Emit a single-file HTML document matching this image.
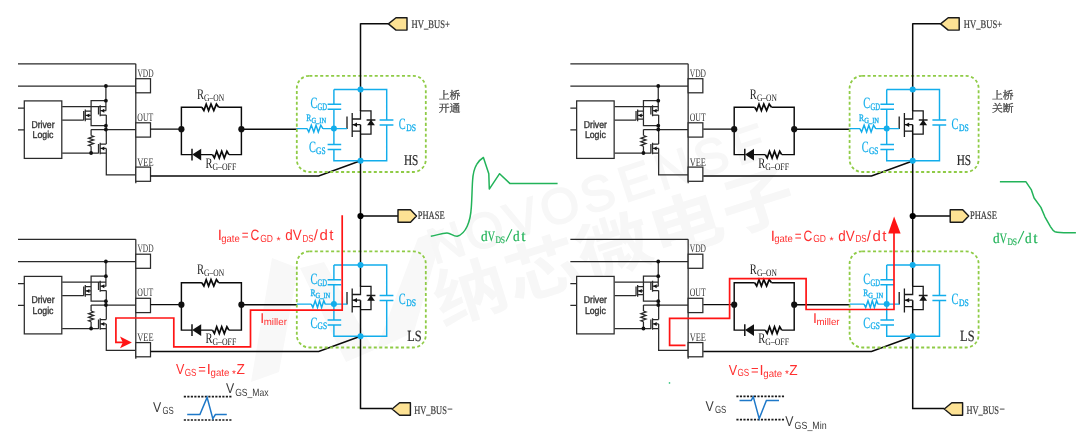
<!DOCTYPE html>
<html><head><meta charset="utf-8"><title>Miller current</title>
<style>
html,body{margin:0;padding:0;background:#fff;}
body{width:1087px;height:445px;overflow:hidden;font-family:"Liberation Sans",sans-serif;}
svg{display:block;will-change:transform;} text{text-rendering:geometricPrecision;}
</style></head><body>
<svg width="1087" height="445" viewBox="0 0 1087 445">
<rect width="1087" height="445" fill="#fff"/>
<path d="M272,258 L298,268 L279,372 L251,382 Z M300,268 L324,262 L374,350 L346,362 Z M418,238 L444,228 L414,332 L376,350 Z" fill="#f8f8f8"/>
<g transform="translate(446,242) rotate(-18)" font-family="Liberation Sans" font-size="50" fill="#f7f7f7" stroke="#f7f7f7" stroke-width="1.5" text-anchor="middle">
<text x="0.0" y="17.9">N</text>
<text x="39.8" y="17.9">O</text>
<text x="79.6" y="17.9">V</text>
<text x="119.4" y="17.9">O</text>
<text x="159.2" y="17.9">S</text>
<text x="199.0" y="17.9">E</text>
<text x="238.8" y="17.9">N</text>
<text x="278.6" y="17.9">S</text>
<text x="318.4" y="17.9">E</text>
</g>
<g transform="translate(470,291) rotate(-17.5)">
<text transform="translate(-37.00,24.50) scale(1,0.87)" x="0 75.3 150.6 225.9 301.2" y="0" font-family="&quot;Liberation Sans&quot;, &quot;Noto Sans CJK SC&quot;, sans-serif" font-size="74" font-weight="bold" fill="#f7f7f7">纳芯微电子</text>
</g>
<g transform="translate(0.00,0.00)">
<path d="M18,63.8 H135.8 M135.8,63.8 V183.2 M18,86 H135.8 M18,108 H24.2 M18,129.8 H24.2 M62.2,106.6 H105.9 M62.2,120 H83.7 M62.2,153 H98.5 M105.9,86 V110.6 M106.3,115 V144 M106.3,148.4 V174.8 H135.8 M105.9,100.7 H91.1 V125.7 H105.9 M91.1,129.6 H135.8 M91.1,129.5 V135.5 M91.1,146.2 V153 M98.50,106.40 V114.40 M100.20,105.30 V116.30 M100.20,106.60 H106.30 M100.20,110.60 H106.30 M100.20,115.00 H106.30 M83.70,111.00 V120.20 M85.30,109.50 V121.30 M85.30,111.10 H91.10 M85.30,115.40 H91.10 M85.30,119.00 H91.10 M98.50,144.00 V153.40 M100.20,142.70 V154.20 M100.20,144.00 H106.30 M100.20,148.40 H106.30 M100.20,153.00 H106.30" fill="none" stroke="#2a2a2a" stroke-width="1.25"/>
<path d="M91.10,135.50 L93.60,136.39 L88.60,138.17 L93.60,139.96 L88.60,141.74 L93.60,143.52 L88.60,145.31 L91.10,146.20" fill="none" stroke="#2a2a2a" stroke-width="1.3" stroke-linejoin="miter"/>
<rect x="135.8" y="78.7" width="14.7" height="14.1" fill="#fff" stroke="#2a2a2a" stroke-width="1.25"/>
<rect x="135.8" y="122.8" width="14.7" height="14.3" fill="#fff" stroke="#2a2a2a" stroke-width="1.25"/>
<rect x="135.8" y="167.1" width="14.7" height="14.2" fill="#fff" stroke="#2a2a2a" stroke-width="1.25"/>
<rect x="24.3" y="100.9" width="37.5" height="57.5" fill="#fff" stroke="#2a2a2a" stroke-width="1.25"/>
<circle cx="105.9" cy="86.0" r="1.9" fill="#111"/>
<circle cx="105.9" cy="100.7" r="1.9" fill="#111"/>
<circle cx="105.9" cy="125.7" r="1.9" fill="#111"/>
<circle cx="105.9" cy="129.5" r="1.9" fill="#111"/>
<circle cx="91.1" cy="153.0" r="1.9" fill="#111"/>
<path d="M100.9,110.7 L104.3,108.7 V112.7 Z M86,115.4 L89.4,113.4 V117.4 Z M100.9,148.4 L104.3,146.4 V150.4 Z" fill="#111"/>
<text x="137.4" y="76.7" font-family="Liberation Serif" font-size="11.5" fill="#3a3a3a" textLength="16.2" lengthAdjust="spacingAndGlyphs" >VDD</text>
<text x="137.3" y="120.9" font-family="Liberation Serif" font-size="11.5" fill="#3a3a3a" textLength="16.0" lengthAdjust="spacingAndGlyphs" >OUT</text>
<text x="137.3" y="165.7" font-family="Liberation Serif" font-size="11.5" fill="#3a3a3a" textLength="16.3" lengthAdjust="spacingAndGlyphs" >VEE</text>
<text x="43.0" y="127.5" font-family="Liberation Sans" font-size="10.0" fill="#363636" text-anchor="middle" textLength="23.2" lengthAdjust="spacingAndGlyphs" stroke="#363636" stroke-width="0.4">Driver</text>
<text x="43.0" y="138.2" font-family="Liberation Sans" font-size="10.0" fill="#363636" text-anchor="middle" textLength="20.9" lengthAdjust="spacingAndGlyphs" stroke="#363636" stroke-width="0.4">Logic</text>
</g>
<g transform="translate(0.00,0.00)">
<path d="M150.5,129.1 H181.4 M181.4,129.2 V107.3 H201.9 M218.7,107.3 H241.4 V154.6 H228.9 M212.5,154.6 H201 M192.5,154.6 H181.4 V129.2 M192,148.7 V160.6 M241.4,129.2 H297 M150.5,176 H318.7 L360.5,160.8" fill="none" stroke="#0a0a0a" stroke-width="1.45" stroke-linejoin="miter"/>
<path d="M201.90,107.30 L203.90,110.50 L206.20,104.10 L208.60,110.50 L211.00,104.10 L213.80,110.50 L216.40,104.10 L218.70,107.30 M212.50,154.60 L214.40,158.00 L216.70,151.20 L219.30,158.00 L221.70,151.20 L224.30,158.00 L226.90,151.20 L228.90,154.60" fill="none" stroke="#0a0a0a" stroke-width="1.7" stroke-linejoin="miter"/>
<circle cx="181.4" cy="129.2" r="3.1" fill="#111"/>
<circle cx="241.4" cy="129.2" r="3.1" fill="#111"/>
<path d="M192.2,154.6 L201.2,148.7 V160.6 Z" fill="#111"/>
<path d="M333.9,89.4 H386.7 V120 M386.7,125 V160.8 H333.9 V149.4 M333.9,144.5 V109.2 M333.9,104.2 V89.4 M327.6,104.2 H341.2 M327.6,109.2 H341.2 M327.6,144.5 H341.2 M327.6,149.4 H341.2 M379.6,120 H393.4 M379.6,125 H393.4" fill="none" stroke="#12adeb" stroke-width="1.45"/>
<circle cx="333.9" cy="128.6" r="3.0" fill="#12adeb"/>
<rect x="296.8" y="75.8" width="129" height="96.2" rx="12.5" ry="12.5" fill="none" stroke="#8fcb46" stroke-width="1.8" stroke-dasharray="3.05,2.4"/>
<text x="197.0" y="98.9" font-family="Liberation Serif" font-size="14.6" fill="#222" textLength="7.0" lengthAdjust="spacingAndGlyphs" >R</text>
<text x="204.1" y="100.7" font-family="Liberation Serif" font-size="10.0" fill="#222" textLength="20.0" lengthAdjust="spacingAndGlyphs" >G–ON</text>
<text x="205.4" y="167.6" font-family="Liberation Serif" font-size="14.6" fill="#222" textLength="7.0" lengthAdjust="spacingAndGlyphs" >R</text>
<text x="212.5" y="169.5" font-family="Liberation Serif" font-size="10.0" fill="#222" textLength="23.7" lengthAdjust="spacingAndGlyphs" >G–OFF</text>
<text x="310.4" y="108.3" font-family="Liberation Serif" font-size="15.6" fill="#12adeb" textLength="6.9" lengthAdjust="spacingAndGlyphs" stroke="#12adeb" stroke-width="0.18">C</text>
<text x="317.6" y="110.1" font-family="Liberation Serif" font-size="10.0" fill="#12adeb" textLength="9.5" lengthAdjust="spacingAndGlyphs" stroke="#12adeb" stroke-width="0.32">GD</text>
<text x="398.7" y="128.9" font-family="Liberation Serif" font-size="15.6" fill="#12adeb" textLength="6.9" lengthAdjust="spacingAndGlyphs" stroke="#12adeb" stroke-width="0.18">C</text>
<text x="406.2" y="130.5" font-family="Liberation Serif" font-size="10.0" fill="#12adeb" textLength="9.8" lengthAdjust="spacingAndGlyphs" stroke="#12adeb" stroke-width="0.32">DS</text>
</g>
<g transform="translate(0.00,0.00)">
<path d="M347,116.6 V128.9 M352.2,113 V137 M352.2,119 H360.5 V110.9 H371 V134.2 H360.5 M352.2,124.7 H360.5 M352.2,131.2 H360.5 M366.6,120 H375.4" fill="none" stroke="#1a1a1a" stroke-width="1.3" stroke-linejoin="miter"/>
<path d="M352.7,124.7 L357,122.4 V127 Z" fill="#111"/>
<path d="M371,119.8 L374.9,125.2 H367.1 Z" fill="#111"/>
</g>
<path d="M297.0,128.6 H307.1 M307.10,128.60 L308.80,132.00 L311.30,125.20 L313.80,132.00 L316.00,125.20 L318.30,132.00 L320.80,125.20 L322.90,128.60 M322.9,128.6 H347.0" fill="none" stroke="#12adeb" stroke-width="1.45"/>
<text x="306.3" y="121.2" font-family="Liberation Serif" font-size="9.8" fill="#12adeb" textLength="5.0" lengthAdjust="spacingAndGlyphs" stroke="#12adeb" stroke-width="0.32">R</text>
<text x="311.4" y="123.3" font-family="Liberation Serif" font-size="7.8" fill="#12adeb" textLength="14.8" lengthAdjust="spacingAndGlyphs" stroke="#12adeb" stroke-width="0.32">G_IN</text>
<text x="308.9" y="152.2" font-family="Liberation Serif" font-size="15.6" fill="#12adeb" textLength="6.9" lengthAdjust="spacingAndGlyphs" stroke="#12adeb" stroke-width="0.18">C</text>
<text x="316.1" y="153.5" font-family="Liberation Serif" font-size="10.0" fill="#12adeb" textLength="9.5" lengthAdjust="spacingAndGlyphs" stroke="#12adeb" stroke-width="0.32">GS</text>
<g transform="translate(0.00,175.50)">
<path d="M18,63.8 H135.8 M135.8,63.8 V183.2 M18,86 H135.8 M18,108 H24.2 M18,129.8 H24.2 M62.2,106.6 H105.9 M62.2,120 H83.7 M62.2,153 H98.5 M105.9,86 V110.6 M106.3,115 V144 M106.3,148.4 V174.8 H135.8 M105.9,100.7 H91.1 V125.7 H105.9 M91.1,129.6 H135.8 M91.1,129.5 V135.5 M91.1,146.2 V153 M98.50,106.40 V114.40 M100.20,105.30 V116.30 M100.20,106.60 H106.30 M100.20,110.60 H106.30 M100.20,115.00 H106.30 M83.70,111.00 V120.20 M85.30,109.50 V121.30 M85.30,111.10 H91.10 M85.30,115.40 H91.10 M85.30,119.00 H91.10 M98.50,144.00 V153.40 M100.20,142.70 V154.20 M100.20,144.00 H106.30 M100.20,148.40 H106.30 M100.20,153.00 H106.30" fill="none" stroke="#2a2a2a" stroke-width="1.25"/>
<path d="M91.10,135.50 L93.60,136.39 L88.60,138.17 L93.60,139.96 L88.60,141.74 L93.60,143.52 L88.60,145.31 L91.10,146.20" fill="none" stroke="#2a2a2a" stroke-width="1.3" stroke-linejoin="miter"/>
<rect x="135.8" y="78.7" width="14.7" height="14.1" fill="#fff" stroke="#2a2a2a" stroke-width="1.25"/>
<rect x="135.8" y="122.8" width="14.7" height="14.3" fill="#fff" stroke="#2a2a2a" stroke-width="1.25"/>
<rect x="135.8" y="167.1" width="14.7" height="14.2" fill="#fff" stroke="#2a2a2a" stroke-width="1.25"/>
<rect x="24.3" y="100.9" width="37.5" height="57.5" fill="#fff" stroke="#2a2a2a" stroke-width="1.25"/>
<circle cx="105.9" cy="86.0" r="1.9" fill="#111"/>
<circle cx="105.9" cy="100.7" r="1.9" fill="#111"/>
<circle cx="105.9" cy="125.7" r="1.9" fill="#111"/>
<circle cx="105.9" cy="129.5" r="1.9" fill="#111"/>
<circle cx="91.1" cy="153.0" r="1.9" fill="#111"/>
<path d="M100.9,110.7 L104.3,108.7 V112.7 Z M86,115.4 L89.4,113.4 V117.4 Z M100.9,148.4 L104.3,146.4 V150.4 Z" fill="#111"/>
<text x="137.4" y="76.7" font-family="Liberation Serif" font-size="11.5" fill="#3a3a3a" textLength="16.2" lengthAdjust="spacingAndGlyphs" >VDD</text>
<text x="137.3" y="120.9" font-family="Liberation Serif" font-size="11.5" fill="#3a3a3a" textLength="16.0" lengthAdjust="spacingAndGlyphs" >OUT</text>
<text x="137.3" y="165.7" font-family="Liberation Serif" font-size="11.5" fill="#3a3a3a" textLength="16.3" lengthAdjust="spacingAndGlyphs" >VEE</text>
<text x="43.0" y="127.5" font-family="Liberation Sans" font-size="10.0" fill="#363636" text-anchor="middle" textLength="23.2" lengthAdjust="spacingAndGlyphs" stroke="#363636" stroke-width="0.4">Driver</text>
<text x="43.0" y="138.2" font-family="Liberation Sans" font-size="10.0" fill="#363636" text-anchor="middle" textLength="20.9" lengthAdjust="spacingAndGlyphs" stroke="#363636" stroke-width="0.4">Logic</text>
</g>
<g transform="translate(0.00,175.50)">
<path d="M150.5,129.1 H181.4 M181.4,129.2 V107.3 H201.9 M218.7,107.3 H241.4 V154.6 H228.9 M212.5,154.6 H201 M192.5,154.6 H181.4 V129.2 M192,148.7 V160.6 M241.4,129.2 H297 M150.5,176 H318.7 L360.5,160.8" fill="none" stroke="#0a0a0a" stroke-width="1.45" stroke-linejoin="miter"/>
<path d="M201.90,107.30 L203.90,110.50 L206.20,104.10 L208.60,110.50 L211.00,104.10 L213.80,110.50 L216.40,104.10 L218.70,107.30 M212.50,154.60 L214.40,158.00 L216.70,151.20 L219.30,158.00 L221.70,151.20 L224.30,158.00 L226.90,151.20 L228.90,154.60" fill="none" stroke="#0a0a0a" stroke-width="1.7" stroke-linejoin="miter"/>
<circle cx="181.4" cy="129.2" r="3.1" fill="#111"/>
<circle cx="241.4" cy="129.2" r="3.1" fill="#111"/>
<path d="M192.2,154.6 L201.2,148.7 V160.6 Z" fill="#111"/>
<path d="M333.9,89.4 H386.7 V120 M386.7,125 V160.8 H333.9 V149.4 M333.9,144.5 V109.2 M333.9,104.2 V89.4 M327.6,104.2 H341.2 M327.6,109.2 H341.2 M327.6,144.5 H341.2 M327.6,149.4 H341.2 M379.6,120 H393.4 M379.6,125 H393.4" fill="none" stroke="#12adeb" stroke-width="1.45"/>
<circle cx="333.9" cy="128.6" r="3.0" fill="#12adeb"/>
<rect x="296.8" y="75.8" width="129" height="96.2" rx="12.5" ry="12.5" fill="none" stroke="#8fcb46" stroke-width="1.8" stroke-dasharray="3.05,2.4"/>
<text x="197.0" y="98.9" font-family="Liberation Serif" font-size="14.6" fill="#222" textLength="7.0" lengthAdjust="spacingAndGlyphs" >R</text>
<text x="204.1" y="100.7" font-family="Liberation Serif" font-size="10.0" fill="#222" textLength="20.0" lengthAdjust="spacingAndGlyphs" >G–ON</text>
<text x="205.4" y="167.6" font-family="Liberation Serif" font-size="14.6" fill="#222" textLength="7.0" lengthAdjust="spacingAndGlyphs" >R</text>
<text x="212.5" y="169.5" font-family="Liberation Serif" font-size="10.0" fill="#222" textLength="23.7" lengthAdjust="spacingAndGlyphs" >G–OFF</text>
<text x="310.4" y="108.3" font-family="Liberation Serif" font-size="15.6" fill="#12adeb" textLength="6.9" lengthAdjust="spacingAndGlyphs" stroke="#12adeb" stroke-width="0.18">C</text>
<text x="317.6" y="110.1" font-family="Liberation Serif" font-size="10.0" fill="#12adeb" textLength="9.5" lengthAdjust="spacingAndGlyphs" stroke="#12adeb" stroke-width="0.32">GD</text>
<text x="398.7" y="128.9" font-family="Liberation Serif" font-size="15.6" fill="#12adeb" textLength="6.9" lengthAdjust="spacingAndGlyphs" stroke="#12adeb" stroke-width="0.18">C</text>
<text x="406.2" y="130.5" font-family="Liberation Serif" font-size="10.0" fill="#12adeb" textLength="9.8" lengthAdjust="spacingAndGlyphs" stroke="#12adeb" stroke-width="0.32">DS</text>
</g>
<g transform="translate(0.00,175.50)">
<path d="M347,116.6 V128.9 M352.2,113 V137 M352.2,119 H360.5 V110.9 H371 V134.2 H360.5 M352.2,124.7 H360.5 M352.2,131.2 H360.5 M366.6,120 H375.4" fill="none" stroke="#1a1a1a" stroke-width="1.3" stroke-linejoin="miter"/>
<path d="M352.7,124.7 L357,122.4 V127 Z" fill="#111"/>
<path d="M371,119.8 L374.9,125.2 H367.1 Z" fill="#111"/>
</g>
<path d="M297.0,304.1 H311.3 M311.30,304.10 L312.90,307.50 L315.20,300.70 L317.50,307.50 L319.50,300.70 L321.60,307.50 L323.80,300.70 L325.20,304.10 M325.2,304.1 H347.0" fill="none" stroke="#12adeb" stroke-width="1.45"/>
<text x="310.4" y="296.3" font-family="Liberation Serif" font-size="9.8" fill="#12adeb" textLength="5.0" lengthAdjust="spacingAndGlyphs" stroke="#12adeb" stroke-width="0.32">R</text>
<text x="315.5" y="298.2" font-family="Liberation Serif" font-size="7.8" fill="#12adeb" textLength="14.8" lengthAdjust="spacingAndGlyphs" stroke="#12adeb" stroke-width="0.32">G_IN</text>
<text x="310.4" y="327.7" font-family="Liberation Serif" font-size="15.6" fill="#12adeb" textLength="6.9" lengthAdjust="spacingAndGlyphs" stroke="#12adeb" stroke-width="0.18">C</text>
<text x="317.6" y="329.0" font-family="Liberation Serif" font-size="10.0" fill="#12adeb" textLength="9.5" lengthAdjust="spacingAndGlyphs" stroke="#12adeb" stroke-width="0.32">GS</text>
<g transform="translate(552.35,0.00)">
<path d="M18,63.8 H135.8 M135.8,63.8 V183.2 M18,86 H135.8 M18,108 H24.2 M18,129.8 H24.2 M62.2,106.6 H105.9 M62.2,120 H83.7 M62.2,153 H98.5 M105.9,86 V110.6 M106.3,115 V144 M106.3,148.4 V174.8 H135.8 M105.9,100.7 H91.1 V125.7 H105.9 M91.1,129.6 H135.8 M91.1,129.5 V135.5 M91.1,146.2 V153 M98.50,106.40 V114.40 M100.20,105.30 V116.30 M100.20,106.60 H106.30 M100.20,110.60 H106.30 M100.20,115.00 H106.30 M83.70,111.00 V120.20 M85.30,109.50 V121.30 M85.30,111.10 H91.10 M85.30,115.40 H91.10 M85.30,119.00 H91.10 M98.50,144.00 V153.40 M100.20,142.70 V154.20 M100.20,144.00 H106.30 M100.20,148.40 H106.30 M100.20,153.00 H106.30" fill="none" stroke="#2a2a2a" stroke-width="1.25"/>
<path d="M91.10,135.50 L93.60,136.39 L88.60,138.17 L93.60,139.96 L88.60,141.74 L93.60,143.52 L88.60,145.31 L91.10,146.20" fill="none" stroke="#2a2a2a" stroke-width="1.3" stroke-linejoin="miter"/>
<rect x="135.8" y="78.7" width="14.7" height="14.1" fill="#fff" stroke="#2a2a2a" stroke-width="1.25"/>
<rect x="135.8" y="122.8" width="14.7" height="14.3" fill="#fff" stroke="#2a2a2a" stroke-width="1.25"/>
<rect x="135.8" y="167.1" width="14.7" height="14.2" fill="#fff" stroke="#2a2a2a" stroke-width="1.25"/>
<rect x="24.3" y="100.9" width="37.5" height="57.5" fill="#fff" stroke="#2a2a2a" stroke-width="1.25"/>
<circle cx="105.9" cy="86.0" r="1.9" fill="#111"/>
<circle cx="105.9" cy="100.7" r="1.9" fill="#111"/>
<circle cx="105.9" cy="125.7" r="1.9" fill="#111"/>
<circle cx="105.9" cy="129.5" r="1.9" fill="#111"/>
<circle cx="91.1" cy="153.0" r="1.9" fill="#111"/>
<path d="M100.9,110.7 L104.3,108.7 V112.7 Z M86,115.4 L89.4,113.4 V117.4 Z M100.9,148.4 L104.3,146.4 V150.4 Z" fill="#111"/>
<text x="137.4" y="76.7" font-family="Liberation Serif" font-size="11.5" fill="#3a3a3a" textLength="16.2" lengthAdjust="spacingAndGlyphs" >VDD</text>
<text x="137.3" y="120.9" font-family="Liberation Serif" font-size="11.5" fill="#3a3a3a" textLength="16.0" lengthAdjust="spacingAndGlyphs" >OUT</text>
<text x="137.3" y="165.7" font-family="Liberation Serif" font-size="11.5" fill="#3a3a3a" textLength="16.3" lengthAdjust="spacingAndGlyphs" >VEE</text>
<text x="43.0" y="127.5" font-family="Liberation Sans" font-size="10.0" fill="#363636" text-anchor="middle" textLength="23.2" lengthAdjust="spacingAndGlyphs" stroke="#363636" stroke-width="0.4">Driver</text>
<text x="43.0" y="138.2" font-family="Liberation Sans" font-size="10.0" fill="#363636" text-anchor="middle" textLength="20.9" lengthAdjust="spacingAndGlyphs" stroke="#363636" stroke-width="0.4">Logic</text>
</g>
<g transform="translate(552.80,0.00)">
<path d="M150.5,129.1 H181.4 M181.4,129.2 V107.3 H201.9 M218.7,107.3 H241.4 V154.6 H228.9 M212.5,154.6 H201 M192.5,154.6 H181.4 V129.2 M192,148.7 V160.6 M241.4,129.2 H297 M150.5,176 H318.7 L360.5,160.8" fill="none" stroke="#0a0a0a" stroke-width="1.45" stroke-linejoin="miter"/>
<path d="M201.90,107.30 L203.90,110.50 L206.20,104.10 L208.60,110.50 L211.00,104.10 L213.80,110.50 L216.40,104.10 L218.70,107.30 M212.50,154.60 L214.40,158.00 L216.70,151.20 L219.30,158.00 L221.70,151.20 L224.30,158.00 L226.90,151.20 L228.90,154.60" fill="none" stroke="#0a0a0a" stroke-width="1.7" stroke-linejoin="miter"/>
<circle cx="181.4" cy="129.2" r="3.1" fill="#111"/>
<circle cx="241.4" cy="129.2" r="3.1" fill="#111"/>
<path d="M192.2,154.6 L201.2,148.7 V160.6 Z" fill="#111"/>
<path d="M333.9,89.4 H386.7 V120 M386.7,125 V160.8 H333.9 V149.4 M333.9,144.5 V109.2 M333.9,104.2 V89.4 M327.6,104.2 H341.2 M327.6,109.2 H341.2 M327.6,144.5 H341.2 M327.6,149.4 H341.2 M379.6,120 H393.4 M379.6,125 H393.4" fill="none" stroke="#12adeb" stroke-width="1.45"/>
<circle cx="333.9" cy="128.6" r="3.0" fill="#12adeb"/>
<rect x="296.8" y="75.8" width="129" height="96.2" rx="12.5" ry="12.5" fill="none" stroke="#8fcb46" stroke-width="1.8" stroke-dasharray="3.05,2.4"/>
<text x="197.0" y="98.9" font-family="Liberation Serif" font-size="14.6" fill="#222" textLength="7.0" lengthAdjust="spacingAndGlyphs" >R</text>
<text x="204.1" y="100.7" font-family="Liberation Serif" font-size="10.0" fill="#222" textLength="20.0" lengthAdjust="spacingAndGlyphs" >G–ON</text>
<text x="205.4" y="167.6" font-family="Liberation Serif" font-size="14.6" fill="#222" textLength="7.0" lengthAdjust="spacingAndGlyphs" >R</text>
<text x="212.5" y="169.5" font-family="Liberation Serif" font-size="10.0" fill="#222" textLength="23.7" lengthAdjust="spacingAndGlyphs" >G–OFF</text>
<text x="310.4" y="108.3" font-family="Liberation Serif" font-size="15.6" fill="#12adeb" textLength="6.9" lengthAdjust="spacingAndGlyphs" stroke="#12adeb" stroke-width="0.18">C</text>
<text x="317.6" y="110.1" font-family="Liberation Serif" font-size="10.0" fill="#12adeb" textLength="9.5" lengthAdjust="spacingAndGlyphs" stroke="#12adeb" stroke-width="0.32">GD</text>
<text x="398.7" y="128.9" font-family="Liberation Serif" font-size="15.6" fill="#12adeb" textLength="6.9" lengthAdjust="spacingAndGlyphs" stroke="#12adeb" stroke-width="0.18">C</text>
<text x="406.2" y="130.5" font-family="Liberation Serif" font-size="10.0" fill="#12adeb" textLength="9.8" lengthAdjust="spacingAndGlyphs" stroke="#12adeb" stroke-width="0.32">DS</text>
</g>
<g transform="translate(552.20,0.00)">
<path d="M347,116.6 V128.9 M352.2,113 V137 M352.2,119 H360.5 V110.9 H371 V134.2 H360.5 M352.2,124.7 H360.5 M352.2,131.2 H360.5 M366.6,120 H375.4" fill="none" stroke="#1a1a1a" stroke-width="1.3" stroke-linejoin="miter"/>
<path d="M352.7,124.7 L357,122.4 V127 Z" fill="#111"/>
<path d="M371,119.8 L374.9,125.2 H367.1 Z" fill="#111"/>
</g>
<path d="M849.8,128.6 H859.9 M859.90,128.60 L861.60,132.00 L864.10,125.20 L866.60,132.00 L868.80,125.20 L871.10,132.00 L873.60,125.20 L875.70,128.60 M875.7,128.6 H899.2" fill="none" stroke="#12adeb" stroke-width="1.45"/>
<text x="859.1" y="121.2" font-family="Liberation Serif" font-size="9.8" fill="#12adeb" textLength="5.0" lengthAdjust="spacingAndGlyphs" stroke="#12adeb" stroke-width="0.32">R</text>
<text x="864.2" y="123.3" font-family="Liberation Serif" font-size="7.8" fill="#12adeb" textLength="14.8" lengthAdjust="spacingAndGlyphs" stroke="#12adeb" stroke-width="0.32">G_IN</text>
<text x="861.7" y="152.2" font-family="Liberation Serif" font-size="15.6" fill="#12adeb" textLength="6.9" lengthAdjust="spacingAndGlyphs" stroke="#12adeb" stroke-width="0.18">C</text>
<text x="868.9" y="153.5" font-family="Liberation Serif" font-size="10.0" fill="#12adeb" textLength="9.5" lengthAdjust="spacingAndGlyphs" stroke="#12adeb" stroke-width="0.32">GS</text>
<g transform="translate(552.35,175.50)">
<path d="M18,63.8 H135.8 M135.8,63.8 V183.2 M18,86 H135.8 M18,108 H24.2 M18,129.8 H24.2 M62.2,106.6 H105.9 M62.2,120 H83.7 M62.2,153 H98.5 M105.9,86 V110.6 M106.3,115 V144 M106.3,148.4 V174.8 H135.8 M105.9,100.7 H91.1 V125.7 H105.9 M91.1,129.6 H135.8 M91.1,129.5 V135.5 M91.1,146.2 V153 M98.50,106.40 V114.40 M100.20,105.30 V116.30 M100.20,106.60 H106.30 M100.20,110.60 H106.30 M100.20,115.00 H106.30 M83.70,111.00 V120.20 M85.30,109.50 V121.30 M85.30,111.10 H91.10 M85.30,115.40 H91.10 M85.30,119.00 H91.10 M98.50,144.00 V153.40 M100.20,142.70 V154.20 M100.20,144.00 H106.30 M100.20,148.40 H106.30 M100.20,153.00 H106.30" fill="none" stroke="#2a2a2a" stroke-width="1.25"/>
<path d="M91.10,135.50 L93.60,136.39 L88.60,138.17 L93.60,139.96 L88.60,141.74 L93.60,143.52 L88.60,145.31 L91.10,146.20" fill="none" stroke="#2a2a2a" stroke-width="1.3" stroke-linejoin="miter"/>
<rect x="135.8" y="78.7" width="14.7" height="14.1" fill="#fff" stroke="#2a2a2a" stroke-width="1.25"/>
<rect x="135.8" y="122.8" width="14.7" height="14.3" fill="#fff" stroke="#2a2a2a" stroke-width="1.25"/>
<rect x="135.8" y="167.1" width="14.7" height="14.2" fill="#fff" stroke="#2a2a2a" stroke-width="1.25"/>
<rect x="24.3" y="100.9" width="37.5" height="57.5" fill="#fff" stroke="#2a2a2a" stroke-width="1.25"/>
<circle cx="105.9" cy="86.0" r="1.9" fill="#111"/>
<circle cx="105.9" cy="100.7" r="1.9" fill="#111"/>
<circle cx="105.9" cy="125.7" r="1.9" fill="#111"/>
<circle cx="105.9" cy="129.5" r="1.9" fill="#111"/>
<circle cx="91.1" cy="153.0" r="1.9" fill="#111"/>
<path d="M100.9,110.7 L104.3,108.7 V112.7 Z M86,115.4 L89.4,113.4 V117.4 Z M100.9,148.4 L104.3,146.4 V150.4 Z" fill="#111"/>
<text x="137.4" y="76.7" font-family="Liberation Serif" font-size="11.5" fill="#3a3a3a" textLength="16.2" lengthAdjust="spacingAndGlyphs" >VDD</text>
<text x="137.3" y="120.9" font-family="Liberation Serif" font-size="11.5" fill="#3a3a3a" textLength="16.0" lengthAdjust="spacingAndGlyphs" >OUT</text>
<text x="137.3" y="165.7" font-family="Liberation Serif" font-size="11.5" fill="#3a3a3a" textLength="16.3" lengthAdjust="spacingAndGlyphs" >VEE</text>
<text x="43.0" y="127.5" font-family="Liberation Sans" font-size="10.0" fill="#363636" text-anchor="middle" textLength="23.2" lengthAdjust="spacingAndGlyphs" stroke="#363636" stroke-width="0.4">Driver</text>
<text x="43.0" y="138.2" font-family="Liberation Sans" font-size="10.0" fill="#363636" text-anchor="middle" textLength="20.9" lengthAdjust="spacingAndGlyphs" stroke="#363636" stroke-width="0.4">Logic</text>
</g>
<g transform="translate(552.80,175.50)">
<path d="M150.5,129.1 H181.4 M181.4,129.2 V107.3 H201.9 M218.7,107.3 H241.4 V154.6 H228.9 M212.5,154.6 H201 M192.5,154.6 H181.4 V129.2 M192,148.7 V160.6 M241.4,129.2 H297 M150.5,176 H318.7 L360.5,160.8" fill="none" stroke="#0a0a0a" stroke-width="1.45" stroke-linejoin="miter"/>
<path d="M201.90,107.30 L203.90,110.50 L206.20,104.10 L208.60,110.50 L211.00,104.10 L213.80,110.50 L216.40,104.10 L218.70,107.30 M212.50,154.60 L214.40,158.00 L216.70,151.20 L219.30,158.00 L221.70,151.20 L224.30,158.00 L226.90,151.20 L228.90,154.60" fill="none" stroke="#0a0a0a" stroke-width="1.7" stroke-linejoin="miter"/>
<circle cx="181.4" cy="129.2" r="3.1" fill="#111"/>
<circle cx="241.4" cy="129.2" r="3.1" fill="#111"/>
<path d="M192.2,154.6 L201.2,148.7 V160.6 Z" fill="#111"/>
<path d="M333.9,89.4 H386.7 V120 M386.7,125 V160.8 H333.9 V149.4 M333.9,144.5 V109.2 M333.9,104.2 V89.4 M327.6,104.2 H341.2 M327.6,109.2 H341.2 M327.6,144.5 H341.2 M327.6,149.4 H341.2 M379.6,120 H393.4 M379.6,125 H393.4" fill="none" stroke="#12adeb" stroke-width="1.45"/>
<circle cx="333.9" cy="128.6" r="3.0" fill="#12adeb"/>
<rect x="296.8" y="75.8" width="129" height="96.2" rx="12.5" ry="12.5" fill="none" stroke="#8fcb46" stroke-width="1.8" stroke-dasharray="3.05,2.4"/>
<text x="197.0" y="98.9" font-family="Liberation Serif" font-size="14.6" fill="#222" textLength="7.0" lengthAdjust="spacingAndGlyphs" >R</text>
<text x="204.1" y="100.7" font-family="Liberation Serif" font-size="10.0" fill="#222" textLength="20.0" lengthAdjust="spacingAndGlyphs" >G–ON</text>
<text x="205.4" y="167.6" font-family="Liberation Serif" font-size="14.6" fill="#222" textLength="7.0" lengthAdjust="spacingAndGlyphs" >R</text>
<text x="212.5" y="169.5" font-family="Liberation Serif" font-size="10.0" fill="#222" textLength="23.7" lengthAdjust="spacingAndGlyphs" >G–OFF</text>
<text x="310.4" y="108.3" font-family="Liberation Serif" font-size="15.6" fill="#12adeb" textLength="6.9" lengthAdjust="spacingAndGlyphs" stroke="#12adeb" stroke-width="0.18">C</text>
<text x="317.6" y="110.1" font-family="Liberation Serif" font-size="10.0" fill="#12adeb" textLength="9.5" lengthAdjust="spacingAndGlyphs" stroke="#12adeb" stroke-width="0.32">GD</text>
<text x="398.7" y="128.9" font-family="Liberation Serif" font-size="15.6" fill="#12adeb" textLength="6.9" lengthAdjust="spacingAndGlyphs" stroke="#12adeb" stroke-width="0.18">C</text>
<text x="406.2" y="130.5" font-family="Liberation Serif" font-size="10.0" fill="#12adeb" textLength="9.8" lengthAdjust="spacingAndGlyphs" stroke="#12adeb" stroke-width="0.32">DS</text>
</g>
<g transform="translate(552.20,175.50)">
<path d="M347,116.6 V128.9 M352.2,113 V137 M352.2,119 H360.5 V110.9 H371 V134.2 H360.5 M352.2,124.7 H360.5 M352.2,131.2 H360.5 M366.6,120 H375.4" fill="none" stroke="#1a1a1a" stroke-width="1.3" stroke-linejoin="miter"/>
<path d="M352.7,124.7 L357,122.4 V127 Z" fill="#111"/>
<path d="M371,119.8 L374.9,125.2 H367.1 Z" fill="#111"/>
</g>
<path d="M849.8,304.1 H864.1 M864.10,304.10 L865.70,307.50 L868.00,300.70 L870.30,307.50 L872.30,300.70 L874.40,307.50 L876.60,300.70 L878.00,304.10 M878.0,304.1 H899.2" fill="none" stroke="#12adeb" stroke-width="1.45"/>
<text x="863.2" y="296.3" font-family="Liberation Serif" font-size="9.8" fill="#12adeb" textLength="5.0" lengthAdjust="spacingAndGlyphs" stroke="#12adeb" stroke-width="0.32">R</text>
<text x="868.3" y="298.2" font-family="Liberation Serif" font-size="7.8" fill="#12adeb" textLength="14.8" lengthAdjust="spacingAndGlyphs" stroke="#12adeb" stroke-width="0.32">G_IN</text>
<text x="863.2" y="327.7" font-family="Liberation Serif" font-size="15.6" fill="#12adeb" textLength="6.9" lengthAdjust="spacingAndGlyphs" stroke="#12adeb" stroke-width="0.18">C</text>
<text x="870.4" y="329.0" font-family="Liberation Serif" font-size="10.0" fill="#12adeb" textLength="9.5" lengthAdjust="spacingAndGlyphs" stroke="#12adeb" stroke-width="0.32">GS</text>
<path d="M388.5,23.8 H360.5 M360.5,23.2 V110.9 M360.5,124.7 V286.4 M360.5,300.2 V408.4 H392.1 M360.5,216 H398.0" fill="none" stroke="#0a0a0a" stroke-width="1.5"/>
<circle cx="360.5" cy="216" r="3.1" fill="#000"/>
<circle cx="360.5" cy="89.4" r="3.0" fill="#12adeb"/>
<circle cx="360.5" cy="160.8" r="3.0" fill="#12adeb"/>
<circle cx="360.5" cy="264.9" r="3.0" fill="#12adeb"/>
<circle cx="360.5" cy="336.3" r="3.0" fill="#12adeb"/>
<path d="M388.4,23.9 L396.0,17.7 H407.0 V30.1 H396.0 Z" fill="#fde294" stroke="#1a1a1a" stroke-width="1.45" stroke-linejoin="round"/>
<path d="M392.1,409.0 L399.6,402.7 H410.4 V415.3 H399.6 Z" fill="#fde294" stroke="#1a1a1a" stroke-width="1.45" stroke-linejoin="round"/>
<path d="M398.0,209.8 H410.5 L416.5,216.0 L410.5,222.2 H398.0 Z" fill="#fde294" stroke="#1a1a1a" stroke-width="1.45" stroke-linejoin="round"/>
<text x="411.6" y="27.8" font-family="Liberation Serif" font-size="11.5" fill="#3a3a3a" textLength="38.2" lengthAdjust="spacingAndGlyphs" stroke="#3a3a3a" stroke-width="0.22">HV_BUS+</text>
<text x="414.2" y="413.6" font-family="Liberation Serif" font-size="11.5" fill="#3a3a3a" textLength="32.6" lengthAdjust="spacingAndGlyphs" stroke="#3a3a3a" stroke-width="0.22">HV_BUS</text>
<path d="M447.6,409.1 H452.3" stroke="#3a3a3a" stroke-width="0.9"/>
<text x="417.7" y="219.4" font-family="Liberation Serif" font-size="11.5" fill="#3a3a3a" textLength="27.0" lengthAdjust="spacingAndGlyphs" stroke="#3a3a3a" stroke-width="0.22">PHASE</text>
<text x="403.9" y="165.2" font-family="Liberation Serif" font-size="15.0" fill="#2a2a2a" textLength="14.4" lengthAdjust="spacingAndGlyphs" stroke="#2a2a2a" stroke-width="0.2">HS</text>
<text x="407.3" y="340.9" font-family="Liberation Serif" font-size="15.6" fill="#2a2a2a" textLength="14.4" lengthAdjust="spacingAndGlyphs" stroke="#2a2a2a" stroke-width="0.2">LS</text>
<path d="M940.7,23.8 H912.7 M912.7,23.2 V110.9 M912.7,124.7 V286.4 M912.7,300.2 V408.4 H944.3 M912.7,216 H950.2" fill="none" stroke="#0a0a0a" stroke-width="1.5"/>
<circle cx="912.7" cy="216" r="3.1" fill="#000"/>
<circle cx="912.7" cy="89.4" r="3.0" fill="#12adeb"/>
<circle cx="912.7" cy="160.8" r="3.0" fill="#12adeb"/>
<circle cx="912.7" cy="264.9" r="3.0" fill="#12adeb"/>
<circle cx="912.7" cy="336.3" r="3.0" fill="#12adeb"/>
<path d="M940.6,23.9 L948.2,17.7 H959.2 V30.1 H948.2 Z" fill="#fde294" stroke="#1a1a1a" stroke-width="1.45" stroke-linejoin="round"/>
<path d="M944.3,409.0 L951.8,402.7 H962.6 V415.3 H951.8 Z" fill="#fde294" stroke="#1a1a1a" stroke-width="1.45" stroke-linejoin="round"/>
<path d="M950.2,209.8 H962.7 L968.7,216.0 L962.7,222.2 H950.2 Z" fill="#fde294" stroke="#1a1a1a" stroke-width="1.45" stroke-linejoin="round"/>
<text x="963.8" y="27.8" font-family="Liberation Serif" font-size="11.5" fill="#3a3a3a" textLength="38.2" lengthAdjust="spacingAndGlyphs" stroke="#3a3a3a" stroke-width="0.22">HV_BUS+</text>
<text x="966.4" y="413.6" font-family="Liberation Serif" font-size="11.5" fill="#3a3a3a" textLength="32.6" lengthAdjust="spacingAndGlyphs" stroke="#3a3a3a" stroke-width="0.22">HV_BUS</text>
<path d="M999.8,409.1 H1004.5" stroke="#3a3a3a" stroke-width="0.9"/>
<text x="969.9" y="219.4" font-family="Liberation Serif" font-size="11.5" fill="#3a3a3a" textLength="27.0" lengthAdjust="spacingAndGlyphs" stroke="#3a3a3a" stroke-width="0.22">PHASE</text>
<text x="956.7" y="165.2" font-family="Liberation Serif" font-size="15.0" fill="#2a2a2a" textLength="14.4" lengthAdjust="spacingAndGlyphs" stroke="#2a2a2a" stroke-width="0.2">HS</text>
<text x="960.1" y="340.9" font-family="Liberation Serif" font-size="15.6" fill="#2a2a2a" textLength="14.4" lengthAdjust="spacingAndGlyphs" stroke="#2a2a2a" stroke-width="0.2">LS</text>
<text x="438.7 449.5" y="99.3" font-family="&quot;Liberation Serif&quot;, &quot;Noto Serif CJK SC&quot;, serif" font-size="10.8" fill="#484848" stroke="#484848" stroke-width="0.3">上桥</text>
<text x="438.7 449.5" y="112.2" font-family="&quot;Liberation Serif&quot;, &quot;Noto Serif CJK SC&quot;, serif" font-size="10.8" fill="#484848" stroke="#484848" stroke-width="0.3">开通</text>
<text x="991.95 1002.75" y="99.3" font-family="&quot;Liberation Serif&quot;, &quot;Noto Serif CJK SC&quot;, serif" font-size="10.8" fill="#484848" stroke="#484848" stroke-width="0.3">上桥</text>
<text x="991.95 1002.75" y="112.2" font-family="&quot;Liberation Serif&quot;, &quot;Noto Serif CJK SC&quot;, serif" font-size="10.8" fill="#484848" stroke="#484848" stroke-width="0.3">关断</text>
<path d="M430.8,236.3 C437,235.5 441,233 447,233 C451,233 453,236.5 457.2,236.3 C462,235 465,231 467.2,226.3 C470,220 471,213 471.3,207.4 C472,198 472,189 472.6,180.5 C473,173 474.5,168 476.7,164.3 C478.5,161 481,159 483.4,157.5 L488.8,173.7 L489.3,189.1 L499.6,173.7 L509.8,183.4 H557.6" fill="none" stroke="#22b359" stroke-width="1.5" stroke-linejoin="round"/>
<path d="M999.9,181.8 H1026 L1031.4,189.9 L1034.1,198 L1040.9,207.4 L1044.9,216.8 L1050.3,226.3 C1052,229 1053,231 1055,231.8 C1060,233.3 1068,232.8 1075.9,232.8" fill="none" stroke="#22b359" stroke-width="1.5" stroke-linejoin="round"/>
<text x="480.9" y="240.7" font-family="Liberation Serif" font-size="14.5" fill="#22b359" textLength="6.6" lengthAdjust="spacingAndGlyphs" stroke="#22b359" stroke-width="0.2">d</text><text x="487.4" y="240.7" font-family="Liberation Serif" font-size="14.5" fill="#22b359" textLength="7.6" lengthAdjust="spacingAndGlyphs" stroke="#22b359" stroke-width="0.2">V</text><text x="495.4" y="242.7" font-family="Liberation Serif" font-size="9.8" fill="#22b359" textLength="9.7" lengthAdjust="spacingAndGlyphs" stroke="#22b359" stroke-width="0.2">DS</text><path d="M506.0,241.6 L511.9,229.2" stroke="#22b359" stroke-width="1.05" fill="none"/><text x="513.0" y="240.7" font-family="Liberation Serif" font-size="14.5" fill="#22b359" textLength="6.6" lengthAdjust="spacingAndGlyphs" stroke="#22b359" stroke-width="0.2">d</text><text x="521.3" y="240.7" font-family="Liberation Serif" font-size="15.5" fill="#22b359" stroke="#22b359" stroke-width="0.2">t</text>
<text x="992.9" y="242.5" font-family="Liberation Serif" font-size="14.5" fill="#22b359" textLength="6.6" lengthAdjust="spacingAndGlyphs" stroke="#22b359" stroke-width="0.2">d</text><text x="999.4" y="242.5" font-family="Liberation Serif" font-size="14.5" fill="#22b359" textLength="7.6" lengthAdjust="spacingAndGlyphs" stroke="#22b359" stroke-width="0.2">V</text><text x="1007.4" y="244.5" font-family="Liberation Serif" font-size="9.8" fill="#22b359" textLength="9.7" lengthAdjust="spacingAndGlyphs" stroke="#22b359" stroke-width="0.2">DS</text><path d="M1018.0,243.4 L1023.9,231.0" stroke="#22b359" stroke-width="1.05" fill="none"/><text x="1025.0" y="242.5" font-family="Liberation Serif" font-size="14.5" fill="#22b359" textLength="6.6" lengthAdjust="spacingAndGlyphs" stroke="#22b359" stroke-width="0.2">d</text><text x="1033.3" y="242.5" font-family="Liberation Serif" font-size="15.5" fill="#22b359" stroke="#22b359" stroke-width="0.2">t</text>
<rect x="668.8" y="382.1" width="1.4" height="1.7" fill="#3cc682"/>
<path d="M342.2,215.2 V310.1 H250.5 V346.8 H173.8 V318 H115.9 V342.4 H123" fill="none" stroke="#ff1414" stroke-width="1.7" stroke-linejoin="miter"/>
<path d="M131.9,342.4 L120,336.4 L122.8,342.4 L120,348.2 Z" fill="#ff1414"/>
<path d="M685.5,345.3 H669.6 V318.3 H729.6 V278.6 H806.1 V309.5 H894 V232" fill="none" stroke="#ff1414" stroke-width="1.7" stroke-linejoin="miter"/>
<path d="M894.1,216.6 L900.6,233.6 H888.2 Z" fill="#ff1414"/>
<text x="217.7" y="240.0" font-family="Liberation Sans" font-size="15.0" fill="#ff3030" >I</text><text x="221.2" y="241.8" font-family="Liberation Sans" font-size="10.3" fill="#ff3030" textLength="18.6" lengthAdjust="spacingAndGlyphs" >gate</text><text x="241.8" y="240.0" font-family="Liberation Sans" font-size="15.0" fill="#ff3030" textLength="6.8" lengthAdjust="spacingAndGlyphs" >=</text><text x="250.6" y="240.0" font-family="Liberation Sans" font-size="15.0" fill="#ff3030" textLength="8.8" lengthAdjust="spacingAndGlyphs" >C</text><text x="260.2" y="241.5" font-family="Liberation Sans" font-size="10.3" fill="#ff3030" textLength="12.8" lengthAdjust="spacingAndGlyphs" >GD</text><text x="276.4" y="243.8" font-family="Liberation Sans" font-size="10.5" fill="#ff3030" >*</text><text x="285.2" y="240.0" font-family="Liberation Sans" font-size="15.0" fill="#ff3030" textLength="16.4" lengthAdjust="spacingAndGlyphs" >dV</text><text x="302.4" y="241.5" font-family="Liberation Sans" font-size="10.3" fill="#ff3030" textLength="11.2" lengthAdjust="spacingAndGlyphs" >DS</text><text x="313.8" y="240.0" font-family="Liberation Sans" font-size="15.0" fill="#ff3030" textLength="19.6" lengthAdjust="spacing" >/dt</text>
<text x="770.7" y="240.6" font-family="Liberation Sans" font-size="15.0" fill="#ff3030" >I</text><text x="774.2" y="242.4" font-family="Liberation Sans" font-size="10.3" fill="#ff3030" textLength="18.6" lengthAdjust="spacingAndGlyphs" >gate</text><text x="794.8" y="240.6" font-family="Liberation Sans" font-size="15.0" fill="#ff3030" textLength="6.8" lengthAdjust="spacingAndGlyphs" >=</text><text x="803.6" y="240.6" font-family="Liberation Sans" font-size="15.0" fill="#ff3030" textLength="8.8" lengthAdjust="spacingAndGlyphs" >C</text><text x="813.2" y="242.1" font-family="Liberation Sans" font-size="10.3" fill="#ff3030" textLength="12.8" lengthAdjust="spacingAndGlyphs" >GD</text><text x="829.4" y="244.4" font-family="Liberation Sans" font-size="10.5" fill="#ff3030" >*</text><text x="838.2" y="240.6" font-family="Liberation Sans" font-size="15.0" fill="#ff3030" textLength="16.4" lengthAdjust="spacingAndGlyphs" >dV</text><text x="855.4" y="242.1" font-family="Liberation Sans" font-size="10.3" fill="#ff3030" textLength="11.2" lengthAdjust="spacingAndGlyphs" >DS</text><text x="866.8" y="240.6" font-family="Liberation Sans" font-size="15.0" fill="#ff3030" textLength="19.6" lengthAdjust="spacing" >/dt</text>
<text x="260.3" y="322.5" font-family="Liberation Sans" font-size="14.1" fill="#ff3030" >I</text><text x="263.7" y="324.7" font-family="Liberation Sans" font-size="9.8" fill="#ff3030" textLength="23.2" lengthAdjust="spacingAndGlyphs" >miller</text>
<text x="813.0" y="322.5" font-family="Liberation Sans" font-size="14.1" fill="#ff3030" >I</text><text x="816.4" y="324.7" font-family="Liberation Sans" font-size="9.8" fill="#ff3030" textLength="23.2" lengthAdjust="spacingAndGlyphs" >miller</text>
<text x="175.9" y="374.4" font-family="Liberation Sans" font-size="14.5" fill="#ff3030" textLength="8.4" lengthAdjust="spacingAndGlyphs" >V</text><text x="184.7" y="375.7" font-family="Liberation Sans" font-size="10.3" fill="#ff3030" textLength="11.8" lengthAdjust="spacingAndGlyphs" >GS</text><text x="198.2" y="374.4" font-family="Liberation Sans" font-size="14.5" fill="#ff3030" textLength="7.6" lengthAdjust="spacingAndGlyphs" >=</text><text x="206.8" y="374.4" font-family="Liberation Sans" font-size="14.5" fill="#ff3030" >I</text><text x="210.5" y="376.0" font-family="Liberation Sans" font-size="10.3" fill="#ff3030" textLength="18.9" lengthAdjust="spacingAndGlyphs" >gate</text><text x="232.1" y="376.6" font-family="Liberation Sans" font-size="10.0" fill="#ff3030" >*</text><text x="236.5" y="374.4" font-family="Liberation Sans" font-size="14.5" fill="#ff3030" textLength="8.4" lengthAdjust="spacingAndGlyphs" >Z</text>
<text x="728.7" y="375.1" font-family="Liberation Sans" font-size="14.5" fill="#ff3030" textLength="8.4" lengthAdjust="spacingAndGlyphs" >V</text><text x="737.5" y="376.4" font-family="Liberation Sans" font-size="10.3" fill="#ff3030" textLength="11.8" lengthAdjust="spacingAndGlyphs" >GS</text><text x="751.0" y="375.1" font-family="Liberation Sans" font-size="14.5" fill="#ff3030" textLength="7.6" lengthAdjust="spacingAndGlyphs" >=</text><text x="759.6" y="375.1" font-family="Liberation Sans" font-size="14.5" fill="#ff3030" >I</text><text x="763.3" y="376.7" font-family="Liberation Sans" font-size="10.3" fill="#ff3030" textLength="18.9" lengthAdjust="spacingAndGlyphs" >gate</text><text x="784.9" y="377.3" font-family="Liberation Sans" font-size="10.0" fill="#ff3030" >*</text><text x="789.3" y="375.1" font-family="Liberation Sans" font-size="14.5" fill="#ff3030" textLength="8.4" lengthAdjust="spacingAndGlyphs" >Z</text>
<text x="152.9" y="411.5" font-family="Liberation Sans" font-size="14.2" fill="#3d3d3d" textLength="8.2" lengthAdjust="spacingAndGlyphs" >V</text><text x="162.4" y="414.4" font-family="Liberation Sans" font-size="10.4" fill="#3d3d3d" textLength="11.3" lengthAdjust="spacingAndGlyphs" >GS</text>
<text x="226.0" y="393.0" font-family="Liberation Sans" font-size="14.2" fill="#3d3d3d" textLength="8.2" lengthAdjust="spacingAndGlyphs" >V</text><text x="235.2" y="396.0" font-family="Liberation Sans" font-size="10.4" fill="#3d3d3d" textLength="33.4" lengthAdjust="spacingAndGlyphs" >GS_Max</text>
<path d="M183.8,396.7 H232 M183.8,420 H232" stroke="#1a1a1a" stroke-width="1.7" stroke-dasharray="2.15,1.35" fill="none"/>
<path d="M187.2,414.5 H199.9 L207.1,397.4 L212.8,418.6 L215.4,414.5 H226.8" fill="none" stroke="#1e78c8" stroke-width="1.5" stroke-linejoin="miter"/>
<text x="705.6" y="410.8" font-family="Liberation Sans" font-size="14.2" fill="#3d3d3d" textLength="8.2" lengthAdjust="spacingAndGlyphs" >V</text><text x="714.9" y="412.8" font-family="Liberation Sans" font-size="10.4" fill="#3d3d3d" textLength="11.4" lengthAdjust="spacingAndGlyphs" >GS</text>
<text x="785.2" y="426.0" font-family="Liberation Sans" font-size="14.2" fill="#3d3d3d" textLength="8.2" lengthAdjust="spacingAndGlyphs" >V</text><text x="794.6" y="428.7" font-family="Liberation Sans" font-size="10.4" fill="#3d3d3d" textLength="32.0" lengthAdjust="spacingAndGlyphs" >GS_Min</text>
<path d="M736.4,396.4 H784.6 M736.4,419.7 H784.6" stroke="#1a1a1a" stroke-width="1.7" stroke-dasharray="2.15,1.35" fill="none"/>
<path d="M739.5,400.5 H751.2 L753.3,396.9 L759.2,418.6 L766.4,400.5 H779" fill="none" stroke="#1e78c8" stroke-width="1.5" stroke-linejoin="miter"/>
</svg>
</body></html>
